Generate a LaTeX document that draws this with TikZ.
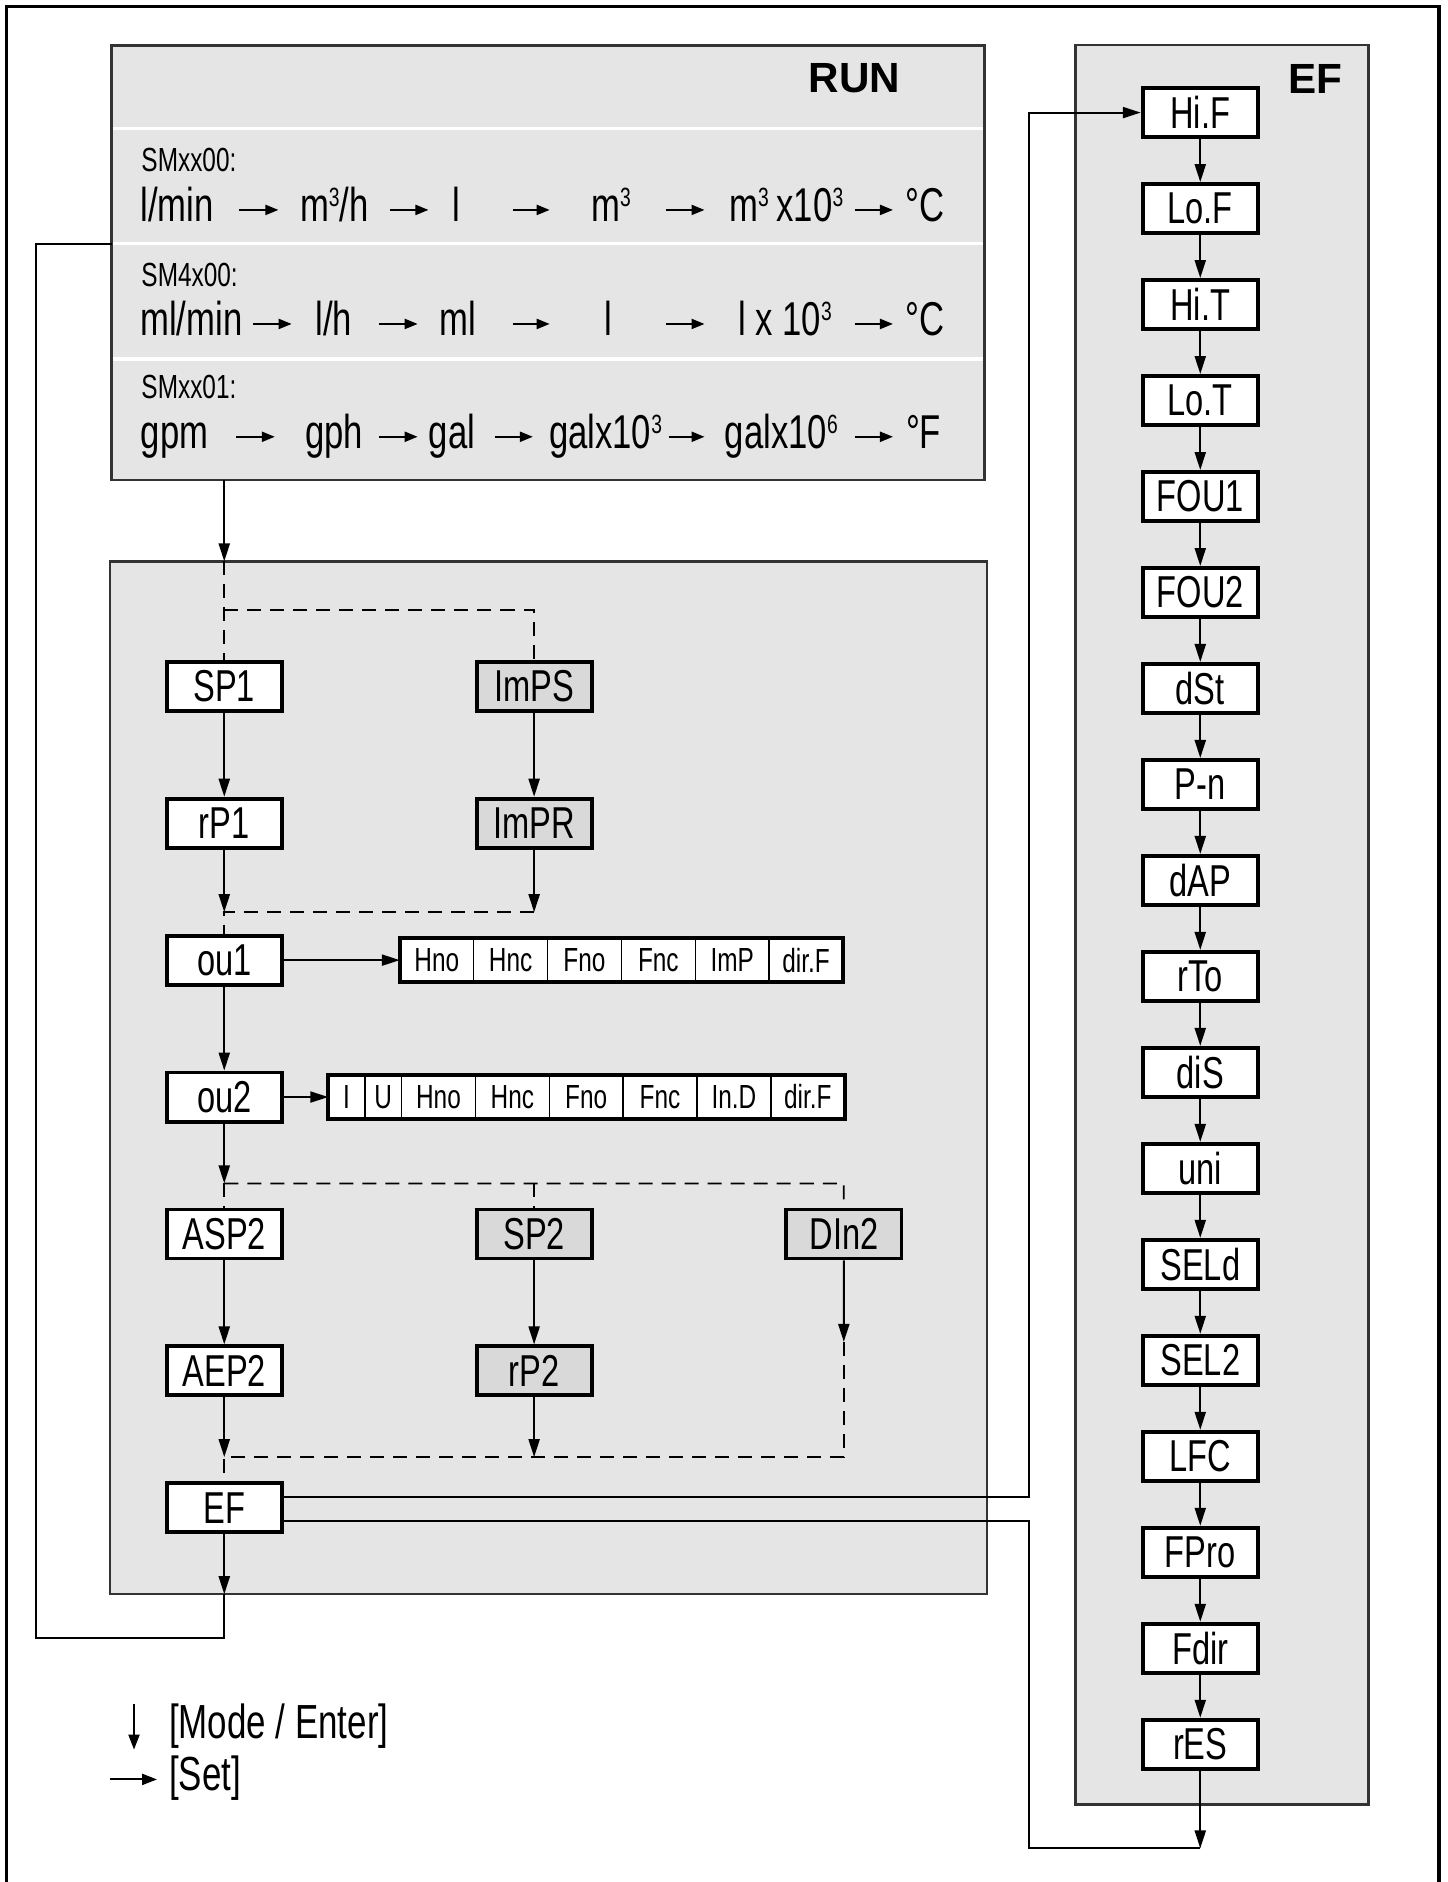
\documentclass[tikz,border=0pt]{standalone}
\usepackage{fontspec}
\setmainfont{Liberation Sans}[FakeStretch=0.73]
\newfontfamily\titlefont{Liberation Sans}
\usetikzlibrary{matrix,arrows.meta,positioning}
\newcommand{\upn}[1]{\raisebox{4.3pt}{\fontsize{7.5}{9}\selectfont #1}}

\begin{document}
\begin{tikzpicture}[x=0.012cm,y=-0.012cm,>={Triangle[length=1.8mm,width=1.1mm]},line width=0.6pt,
box/.style={draw,line width=1.1pt,fill=white,minimum width=11.5mm,minimum height=4.9mm,inner sep=0pt,font=\fontsize{12.7}{14}\selectfont},
gbox/.style={box,fill=black!15},
cell/.style={draw,line width=0.4pt,fill=white,minimum width=7.38mm,minimum height=4.4mm,inner sep=0pt,outer sep=0pt,font=\fontsize{9.5}{11}\selectfont},
ncell/.style={cell,minimum width=3.66mm},
panel/.style={draw=black!80,fill=black!10,line width=0.7pt,inner sep=0pt,outer sep=0pt},
paneltitle/.style={inner sep=0pt,font=\titlefont\bfseries\fontsize{12}{14}\selectfont},
smlabel/.style={anchor=base west,inner sep=0pt,font=\fontsize{9.5}{11}\selectfont},
unit/.style={anchor=base,inner sep=0pt,text height=2.6mm,text depth=0.3mm,font=\fontsize{13.5}{15}\selectfont},
ua/.style={-{Triangle[length=1.3mm,width=1mm]}},
legend/.style={anchor=base west,inner sep=0pt,font=\fontsize{13.6}{15}\selectfont},
legarrow/.style={-{Triangle[length=1.5mm,width=1.1mm]}},
dashline/.style={line width=0.5pt,dash pattern=on 1.4mm off 0.9mm}]
\useasboundingbox (0,0) rectangle (1206,1568);
\draw[line width=1pt] (5.6,1568) -- (5.6,5.6) -- (1199,5.6) -- (1199,1568);

\node[panel,minimum width=87.24mm,minimum height=43.44mm] (run) at (456.5,219) {};
\node[panel,minimum width=87.6mm,minimum height=103.2mm] (setup) at (457,898) {};
\node[panel,minimum width=29.28mm,minimum height=175.8mm] (efbox) at (1018,770.5) {};
\draw[white,line width=1pt] (94,107) -- (819,107);
\draw[white,line width=1pt] (94,203) -- (819,203);
\draw[white,line width=1pt] (94,299) -- (819,299);
\coordinate (sep_2) at (93,203);
\node[paneltitle] (run_t) at (712,65.5) {RUN};
\node[paneltitle] (ef_t) at (1096,65.5) {EF};

\node[smlabel] (sm_1) at (117,143) {SMxx00:};
\node[smlabel] (sm_2) at (117,239) {SM4x00:};
\node[smlabel] (sm_3) at (117,332) {SMxx01:};

\node[unit] (u1_1) at (147.5,184.5) {l/min};
\node[unit] (u1_2) at (278.5,184.5) {m\upn{3}/h};
\node[unit] (u1_3) at (380.5,184.5) {l};
\node[unit] (u1_4) at (509,184.5) {m\upn{3}};
\node[unit] (u1_5) at (655,184.5) {m\upn{3}\,x10\upn{3}};
\node[unit] (u1_6) at (770.5,184.5) {°C};
\node[unit] (u2_1) at (159.5,279.5) {ml/min};
\node[unit] (u2_2) at (278,279.5) {l/h};
\node[unit] (u2_3) at (381.5,279.5) {ml};
\node[unit] (u2_4) at (507,279.5) {l};
\node[unit] (u2_5) at (654,279.5) {l x 10\upn{3}};
\node[unit] (u2_6) at (770.5,279.5) {°C};
\node[unit] (u3_1) at (145.5,373.5) {gpm};
\node[unit] (u3_2) at (278.5,373.5) {gph};
\node[unit] (u3_3) at (376.5,373.5) {gal};
\node[unit] (u3_4) at (504.5,373.5) {galx10\upn{3}};
\node[unit] (u3_5) at (651,373.5) {galx10\upn{6}};
\node[unit] (u3_6) at (769.5,373.5) {°F};

\matrix (setm) [matrix of nodes,
column sep={30.96mm,between origins},
row sep={13.68mm,between origins},
nodes={box,anchor=center}] at (445,914)
{
|(sp_1)| SP1 & |[gbox](imps)| ImPS & \\
|(rp_1)| rP1 & |[gbox](impr)| ImPR & \\
|(ou_1)| ou1 & & \\
|(ou_2)| ou2 & & \\
|(asp_2)| ASP2 & |[gbox](sp_2)| SP2 & |[gbox](din_2)| DIn2 \\
|(aep_2)| AEP2 & |[gbox](rp_2)| rP2 & \\
|(ef)| EF & & \\
};
\matrix (efm) [matrix of nodes,
row sep={9.59mm,between origins},
nodes={box,anchor=center}] at (1000,773.5)
{
|(hif)| Hi.F \\ |(lof)| Lo.F \\ |(hit)| Hi.T \\ |(lot)| Lo.T \\
|(fou_1)| FOU1 \\ |(fou_2)| FOU2 \\ |(dst)| dSt \\ |(pn)| P-n \\
|(dap)| dAP \\ |(rto)| rTo \\ |(dis)| diS \\ |(uni)| uni \\
|(seld)| SELd \\ |(sel_2)| SEL2 \\ |(lfc)| LFC \\ |(fpro)| FPro \\
|(fdir)| Fdir \\ |(res)| rES \\
};

\node[cell,right=11.6mm of ou_1] (hno_1) {Hno};
\node[cell,right=0pt of hno_1] (hnc_1) {Hnc};
\node[cell,right=0pt of hnc_1] (fno_1) {Fno};
\node[cell,right=0pt of fno_1] (fnc_1) {Fnc};
\node[cell,right=0pt of fnc_1] (imp_1) {ImP};
\node[cell,right=0pt of imp_1] (dirf_1) {dir.F};
\draw[line width=1.1pt] (hno_1.north west) rectangle (dirf_1.south east);
\node[ncell,right=4.45mm of ou_2] (i_2) {I};
\node[ncell,right=0pt of i_2] (u_2) {U};
\node[cell,right=0pt of u_2] (hno_2) {Hno};
\node[cell,right=0pt of hno_2] (hnc_2) {Hnc};
\node[cell,right=0pt of hnc_2] (fno_2) {Fno};
\node[cell,right=0pt of fno_2] (fnc_2) {Fnc};
\node[cell,right=0pt of fnc_2] (ind_2) {In.D};
\node[cell,right=0pt of ind_2] (dirf_2) {dir.F};
\draw[line width=1.1pt] (i_2.north west) rectangle (dirf_2.south east);

\coordinate (fork_1) at (445,508);
\coordinate (join_1) at (445,760);
\coordinate (fork_2) at (703,986);
\coordinate (din_end) at (703,1118);
\coordinate (join_2) at (703,1214);
\coordinate (ret) at (30,1365);
\coordinate (bus) at (857,1540);

\begin{scope}[ua]
\draw[shorten <=6.18mm,shorten >=5.58mm] (u1_1.center)--(u1_2.center);
\draw[shorten <=5.58mm,shorten >=2.82mm] (u1_2.center)--(u1_3.center);
\draw[shorten <=5.58mm,shorten >=6.12mm] (u1_3.center)--(u1_4.center);
\draw[shorten <=5.52mm,shorten >=8.16mm] (u1_4.center)--(u1_5.center);
\draw[shorten <=6.84mm,shorten >=3.18mm] (u1_5.center)--(u1_6.center);
\draw[shorten <=6.18mm,shorten >=4.2mm] (u2_1.center)--(u2_2.center);
\draw[shorten <=4.56mm,shorten >=4.02mm] (u2_2.center)--(u2_3.center);
\draw[shorten <=5.46mm,shorten >=5.88mm] (u2_3.center)--(u2_4.center);
\draw[shorten <=5.76mm,shorten >=8.04mm] (u2_4.center)--(u2_5.center);
\draw[shorten <=6.96mm,shorten >=3.18mm] (u2_5.center)--(u2_6.center);
\draw[shorten <=6.18mm,shorten >=5.94mm] (u3_1.center)--(u3_2.center);
\draw[shorten <=4.5mm,shorten >=3.42mm] (u3_2.center)--(u3_3.center);
\draw[shorten <=4.26mm,shorten >=7.26mm] (u3_3.center)--(u3_4.center);
\draw[shorten <=6.3mm,shorten >=7.68mm] (u3_4.center)--(u3_5.center);
\draw[shorten <=7.32mm,shorten >=3.06mm] (u3_5.center)--(u3_6.center);
\end{scope}

\begin{scope}[->]
\draw (run.south -| sp_1)--(setup.north -| sp_1);
\draw (sp_1)--(rp_1);
\draw (imps)--(impr);
\draw (rp_1)--(rp_1 |- join_1);
\draw (impr)--(join_1);
\draw (ou_1)--(ou_2);
\draw (ou_1)--(hno_1);
\draw (ou_2)--(i_2);
\draw (ou_2)--(ou_2 |- fork_2);
\draw (asp_2)--(aep_2);
\draw (sp_2)--(rp_2);
\draw (din_2)--(din_end);
\draw (aep_2)--(aep_2 |- join_2);
\draw (rp_2)--(rp_2 |- join_2);
\draw (ef)--(ef |- setup.south);
\draw ([yshift=1.1mm]ef.east) -| (bus |- hif)--(hif);
\draw (hif)--(lof); \draw (lof)--(hit); \draw (hit)--(lot);
\draw (lot)--(fou_1); \draw (fou_1)--(fou_2); \draw (fou_2)--(dst);
\draw (dst)--(pn); \draw (pn)--(dap); \draw (dap)--(rto);
\draw (rto)--(dis); \draw (dis)--(uni); \draw (uni)--(seld);
\draw (seld)--(sel_2); \draw (sel_2)--(lfc); \draw (lfc)--(fpro);
\draw (fpro)--(fdir); \draw (fdir)--(res);
\draw (res)--(res |- bus);
\end{scope}
\draw (ef |- setup.south) |- (ret) |- (sep_2);
\draw ([yshift=-1.3mm]ef.east) -| (bus)--(res |- bus);

\begin{scope}[dashline]
\draw (setup.north -| sp_1)--(sp_1);
\draw (sp_1 |- fork_1)--(fork_1)--(imps);
\draw (join_1)--(rp_1 |- join_1)--(ou_1);
\draw (ou_2 |- fork_2)--(fork_2)--(din_2);
\draw (ou_2 |- fork_2)--(asp_2);
\draw (sp_2 |- fork_2)--(sp_2);
\draw (din_end)--(join_2)--(aep_2 |- join_2)--(ef);
\end{scope}

\node[legend] (leg_mode) at (140,1448.5) {[Mode / Enter]};
\node[legend] (leg_set) at (140,1491.7) {[Set]};
\draw[legarrow] ([xshift=-3.4mm,yshift=3.5mm]leg_mode.base west)--([xshift=-3.4mm,yshift=-1.1mm]leg_mode.base west);
\draw[legarrow] ([xshift=-5.8mm,yshift=1.1mm]leg_set.base west)--([xshift=-1.1mm,yshift=1.1mm]leg_set.base west);
\end{tikzpicture}
\end{document}
